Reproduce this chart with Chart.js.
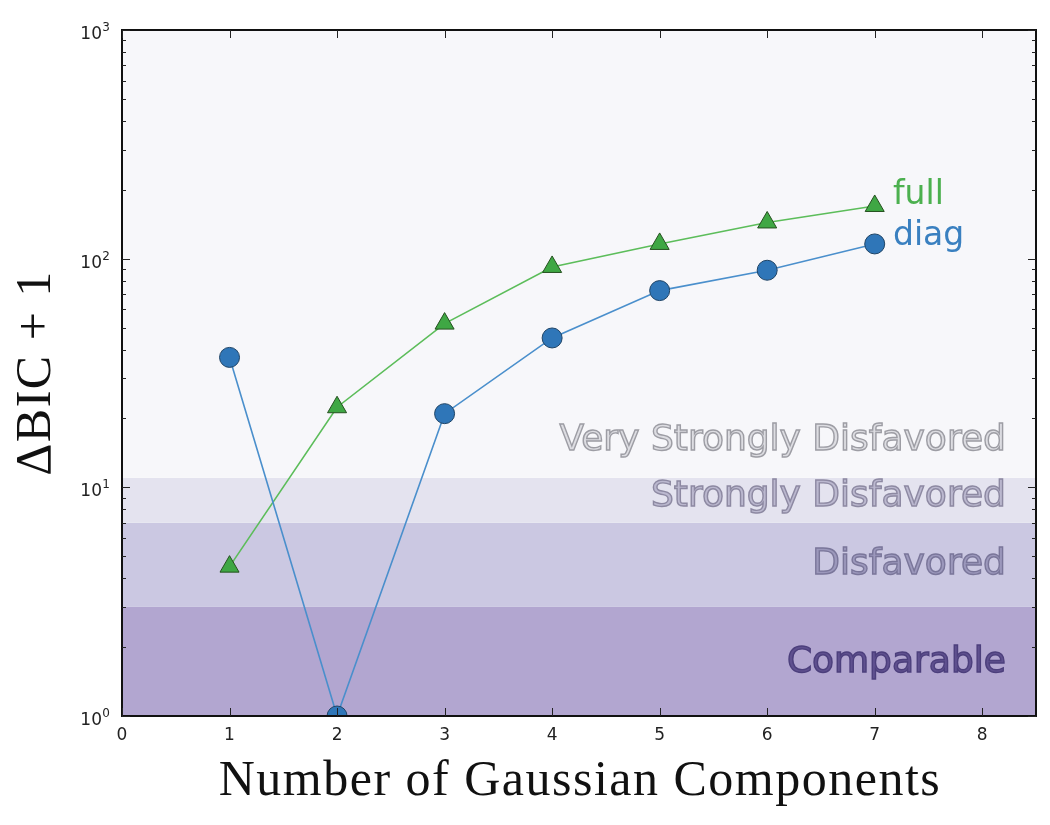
<!DOCTYPE html>
<html>
<head>
<meta charset="utf-8">
<script src="https://cdn.jsdelivr.net/npm/chart.js@4.4.1/dist/chart.umd.min.js"></script>
<style>
  html, body { margin: 0; padding: 0; background: #fff; }
</style>
</head>
<body>
<canvas id="bic" width="1050" height="825"></canvas>
<script>
// number of components
const components = [1, 2, 3, 4, 5, 6, 7];
// delta BIC + 1 per covariance type
const fullValues = [4.5, 22.4, 52, 92, 116, 144, 170];
const diagValues = [37, 1, 21, 45, 72.5, 89, 116];

// evidence bands (lower / upper edge of each band)
const bandNames = ["Comparable", "Disfavored", "Strongly Disfavored", "Very Strongly Disfavored"];
const bandLow = [1, 3, 7, 11];
const bandHigh = [3, 7, 11, 1000];
const bandLabelY = [1.72, 4.6, 9.1, 16];

const xTicks = [0, 1, 2, 3, 4, 5, 6, 7, 8];
const yMajor = [1, 10, 100, 1000];

const bandFill = ["#b2a6d0", "#cbc8e2", "#e4e3ef", "#f7f7fa"];
const bandText = ["#5f508f", "#9c98bc", "#bbb8cf", "#dddde2"];
const bandStroke = ["#4c3f7c", "#7a769a", "#8d89a2", "#9d9da4"];

const toPts = (xs, ys) => xs.map((x, i) => ({ x: x, y: ys[i] }));

const bandsPlugin = {
  id: "bands",
  beforeDatasetsDraw(chart) {
    const { ctx, chartArea: a, scales: { y } } = chart;
    ctx.save();
    bandLow.forEach((lo, i) => {
      const top = y.getPixelForValue(bandHigh[i]);
      const bot = y.getPixelForValue(lo);
      ctx.fillStyle = bandFill[i];
      ctx.fillRect(a.left, top, a.right - a.left, bot - top);
    });
    ctx.restore();
  }
};

const decorPlugin = {
  id: "decor",
  afterDatasetsDraw(chart) {
    const { ctx, chartArea: a, scales: { x, y } } = chart;
    ctx.save();

    // band labels
    ctx.font = "36px 'DejaVu Sans'";
    ctx.textAlign = "right";
    ctx.textBaseline = "middle";
    ctx.lineWidth = 1.4;
    bandNames.forEach((name, i) => {
      const px = x.getPixelForValue(8.22);
      const py = y.getPixelForValue(bandLabelY[i]);
      ctx.fillStyle = bandText[i];
      ctx.fillText(name, px, py);
      ctx.strokeStyle = bandStroke[i];
      ctx.strokeText(name, px, py);
    });

    // series labels, next to the last point of each series
    const last = components.length - 1;
    ctx.font = "33px 'DejaVu Sans'";
    ctx.textAlign = "left";
    ctx.textBaseline = "alphabetic";
    ctx.fillStyle = "#4cb04f";
    ctx.fillText("full", x.getPixelForValue(7.17), y.getPixelForValue(fullValues[last]) - 2);
    ctx.fillStyle = "#3a80c0";
    ctx.fillText("diag", x.getPixelForValue(7.17), y.getPixelForValue(diagValues[last]) + 1);

    // frame
    ctx.strokeStyle = "#111";
    ctx.lineWidth = 2;
    ctx.strokeRect(a.left, a.top, a.right - a.left, a.bottom - a.top);

    // ticks
    ctx.lineWidth = 1;
    ctx.strokeStyle = "#222";
    ctx.beginPath();
    xTicks.forEach(t => {
      const px = Math.round(x.getPixelForValue(t)) + 0.5;
      ctx.moveTo(px, a.bottom); ctx.lineTo(px, a.bottom - 8);
      ctx.moveTo(px, a.top); ctx.lineTo(px, a.top + 8);
    });
    for (let d = 1; d < 1000; d *= 10) {
      for (let m = 1; m <= 10; m++) {
        const v = d * m;
        const py = Math.round(y.getPixelForValue(v)) + 0.5;
        const len = (m === 1 || m === 10) ? 8 : 4;
        ctx.moveTo(a.left, py); ctx.lineTo(a.left + len, py);
        ctx.moveTo(a.right, py); ctx.lineTo(a.right - len, py);
      }
    }
    ctx.stroke();

    // tick labels
    ctx.fillStyle = "#222";
    ctx.font = "17px 'DejaVu Sans'";
    ctx.textAlign = "center";
    ctx.textBaseline = "alphabetic";
    xTicks.forEach(t => ctx.fillText(String(t), x.getPixelForValue(t), a.bottom + 24));
    yMajor.forEach((v, k) => {
      const py = y.getPixelForValue(v);
      ctx.font = "12px 'DejaVu Sans'";
      ctx.textAlign = "right";
      ctx.fillText(String(k), a.left - 12, py + 1);
      ctx.font = "17px 'DejaVu Sans'";
      ctx.fillText("10", a.left - 20, py + 9);
    });

    // axis titles
    ctx.fillStyle = "#111";
    ctx.font = "50px 'Liberation Serif'";
    ctx.letterSpacing = "1.5px";
    ctx.textAlign = "center";
    ctx.fillText("Number of Gaussian Components", 580, 795);
    ctx.save();
    ctx.translate(50, 373);
    ctx.rotate(-Math.PI / 2);
    ctx.fillText("\u0394BIC + 1", 0, 0);
    ctx.restore();

    ctx.restore();
  }
};

const noClip = { left: 0, top: 0, right: 0, bottom: 0 };

new Chart(document.getElementById("bic"), {
  type: "line",
  data: {
    datasets: [
      {
        label: "diag",
        data: toPts(components, diagValues),
        borderColor: "#4a8fcc",
        borderWidth: 1.6,
        backgroundColor: "#2f76b8",
        pointStyle: "circle",
        pointRadius: 10,
        pointBorderColor: "#1f4466",
        pointBorderWidth: 1,
        tension: 0,
        clip: noClip
      },
      {
        label: "full",
        data: toPts(components, fullValues),
        borderColor: "#5cbd5a",
        borderWidth: 1.6,
        backgroundColor: "#3fa744",
        pointStyle: "triangle",
        pointRadius: 11,
        pointBorderColor: "#25501f",
        pointBorderWidth: 1,
        tension: 0,
        clip: noClip
      }
    ]
  },
  options: {
    responsive: false,
    animation: false,
    events: [],
    layout: { padding: { top: 30, right: 14, left: 0, bottom: 0 } },
    plugins: { legend: { display: false }, tooltip: { enabled: false } },
    scales: {
      x: {
        type: "linear",
        min: 0,
        max: 8.5,
        grid: { display: false },
        border: { display: false },
        ticks: { display: false },
        afterFit: s => { s.height = 109; }
      },
      y: {
        type: "logarithmic",
        min: 1,
        max: 1000,
        grid: { display: false },
        border: { display: false },
        ticks: { display: false },
        afterFit: s => { s.width = 122; }
      }
    }
  },
  plugins: [bandsPlugin, decorPlugin]
});
</script>
</body>
</html>
